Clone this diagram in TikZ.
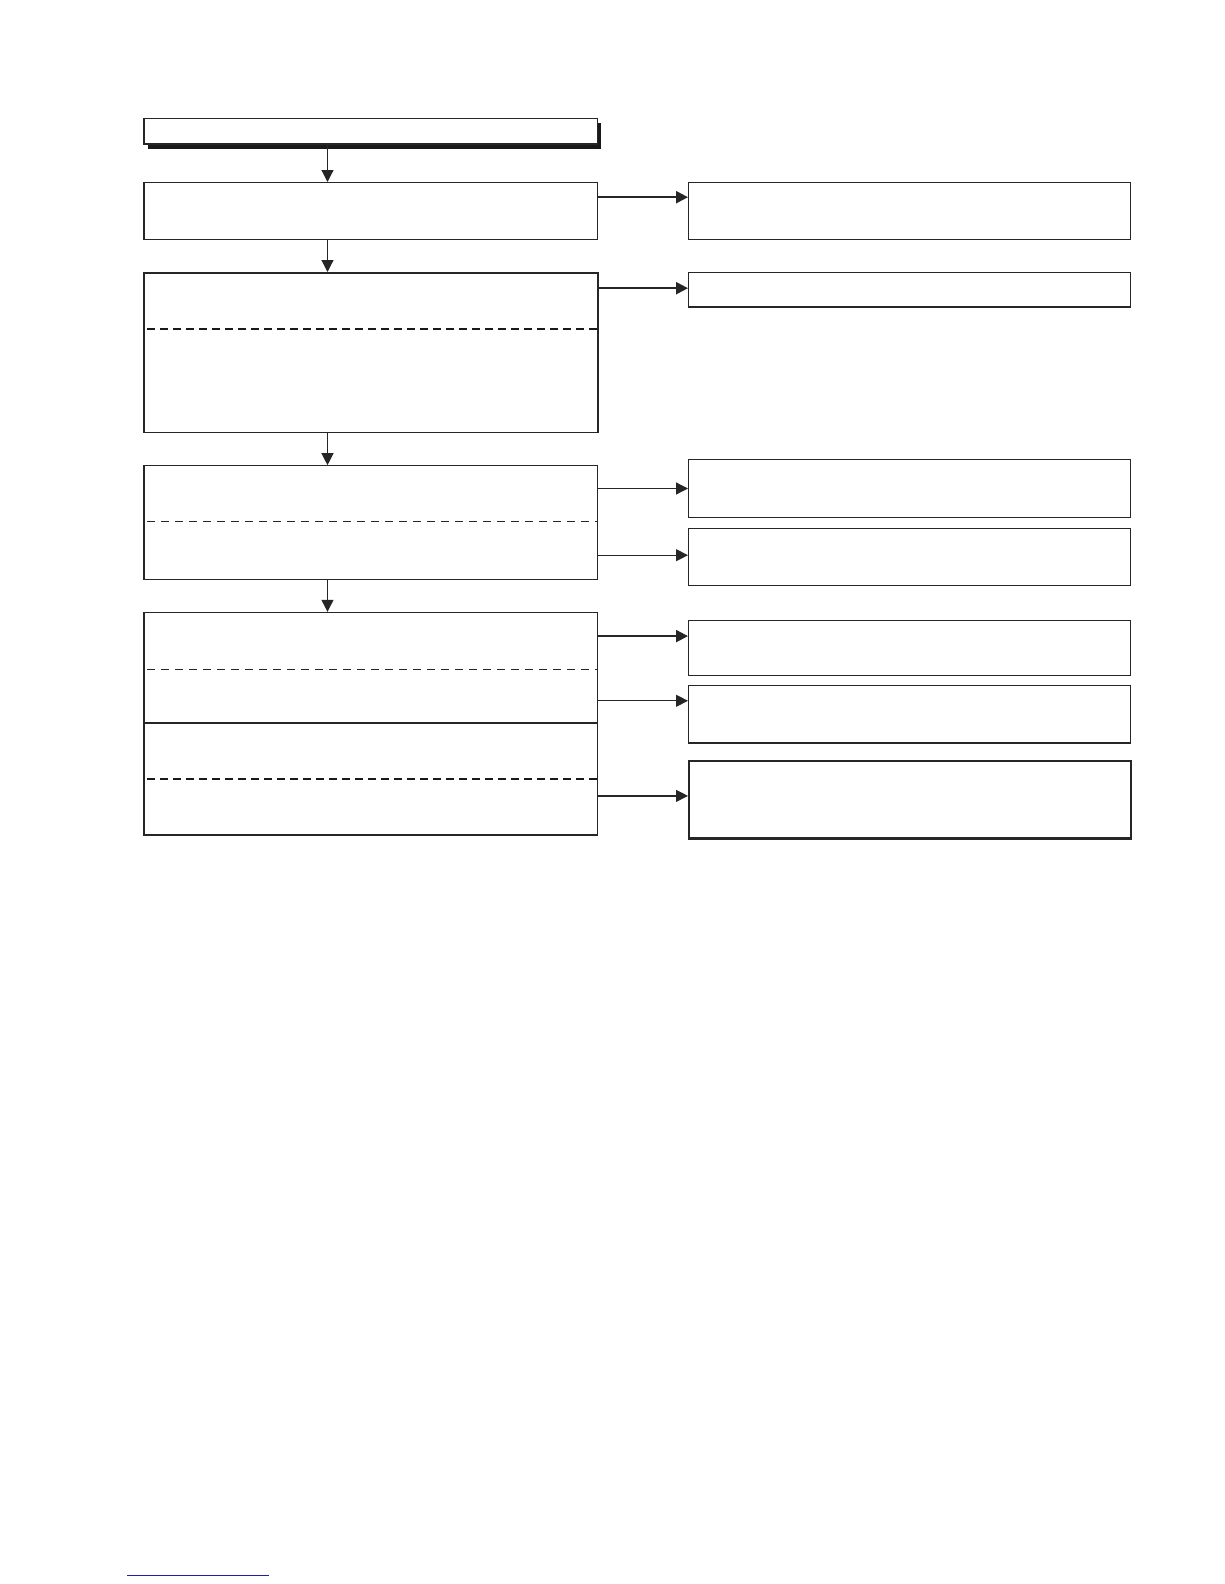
\documentclass[tikz,border=0pt]{standalone}
\usetikzlibrary{arrows.meta}
\definecolor{linkblue}{RGB}{30,30,175}
\begin{document}
\begin{tikzpicture}[x=1pt,y=-1pt,
 box/.style={draw=black!85, line width=1.2pt, fill=white, inner sep=0pt, anchor=north west, minimum width=453.7pt},
 rbox/.style={box, minimum width=442pt},
 conn/.style={draw=black!85, line width=1.2pt, -{Triangle[width=12pt,length=12pt]}},
 thickconn/.style={conn, line width=2.2pt},
 thindash/.style={draw=black!85, line width=1pt, dash pattern=on 8pt off 6pt},
 thickdash/.style={draw=black!90, line width=2pt, dash pattern=on 8pt off 5pt}]
\useasboundingbox (0,0) rectangle (1224,1584);
% top box with shadow
\fill[black!90] (147.5,123) rectangle (601,148.7);
\node[box, minimum height=25pt] (T) at (143.3,118.3) {};
% left column
\node[box, minimum height=56.7pt] (A) at (143.3,182) {};
\node[box, minimum height=159.8pt, line width=1.5pt] (B) at (143.3,272) {};
\node[box, minimum height=113.3pt] (C) at (143.3,465.2) {};
\node[box, minimum height=222.5pt] (D) at (143.3,611.8) {};
% right column
\node[rbox, minimum height=56.7pt] (R1) at (688,182) {};
\node[rbox, minimum height=34.4pt] (R2) at (688,272) {};
\node[rbox, minimum height=57.7pt] (R3) at (688,459.1) {};
\node[rbox, minimum height=56.6pt] (R4) at (688,527.9) {};
\node[rbox, minimum height=54.5pt] (R5) at (688,620) {};
\node[rbox, minimum height=57.6pt] (R6) at (688,684.7) {};
\node[rbox, minimum height=77.9pt, line width=2.2pt] (R7) at (688,759.5) {};
% inner separators
\draw[thickdash] (147,329) -- (B.east |- 0,329);
\draw[thindash] (147,521.8) -- (C.east |- 0,521.8);
\draw[thindash] (147,669.5) -- (D.east |- 0,669.5);
\draw[draw=black!85, line width=1.2pt] (D.west |- 0,723) -- (D.east |- 0,723);
\draw[thickdash] (147,778.7) -- (D.east |- 0,778.7);
% vertical connectors
\coordinate (ax) at (327.5,0);
\draw[conn] (ax |- T.south) -- (ax |- A.north);
\draw[conn] (ax |- A.south) -- (ax |- B.north);
\draw[conn] (ax |- B.south) -- (ax |- C.north);
\draw[conn] (ax |- C.south) -- (ax |- D.north);
% horizontal connectors
\draw[thickconn] (A.east |- 0,197.2) -- (R1.west |- 0,197.2);
\draw[thickconn] (B.east |- 0,288.2) -- (R2.west |- 0,288.2);
\draw[conn] (C.east |- 0,488.5) -- (R3.west |- 0,488.5);
\draw[conn] (C.east |- 0,555.2) -- (R4.west |- 0,555.2);
\draw[thickconn] (D.east |- 0,636.1) -- (R5.west |- 0,636.1);
\draw[conn] (D.east |- 0,700.8) -- (R6.west |- 0,700.8);
\draw[conn] (D.east |- 0,795.9) -- (R7.west |- 0,795.9);
% bottom link line
\draw[linkblue, line width=1.3pt] (127,1575.5) -- (269,1575.5);
\end{tikzpicture}
\end{document}
